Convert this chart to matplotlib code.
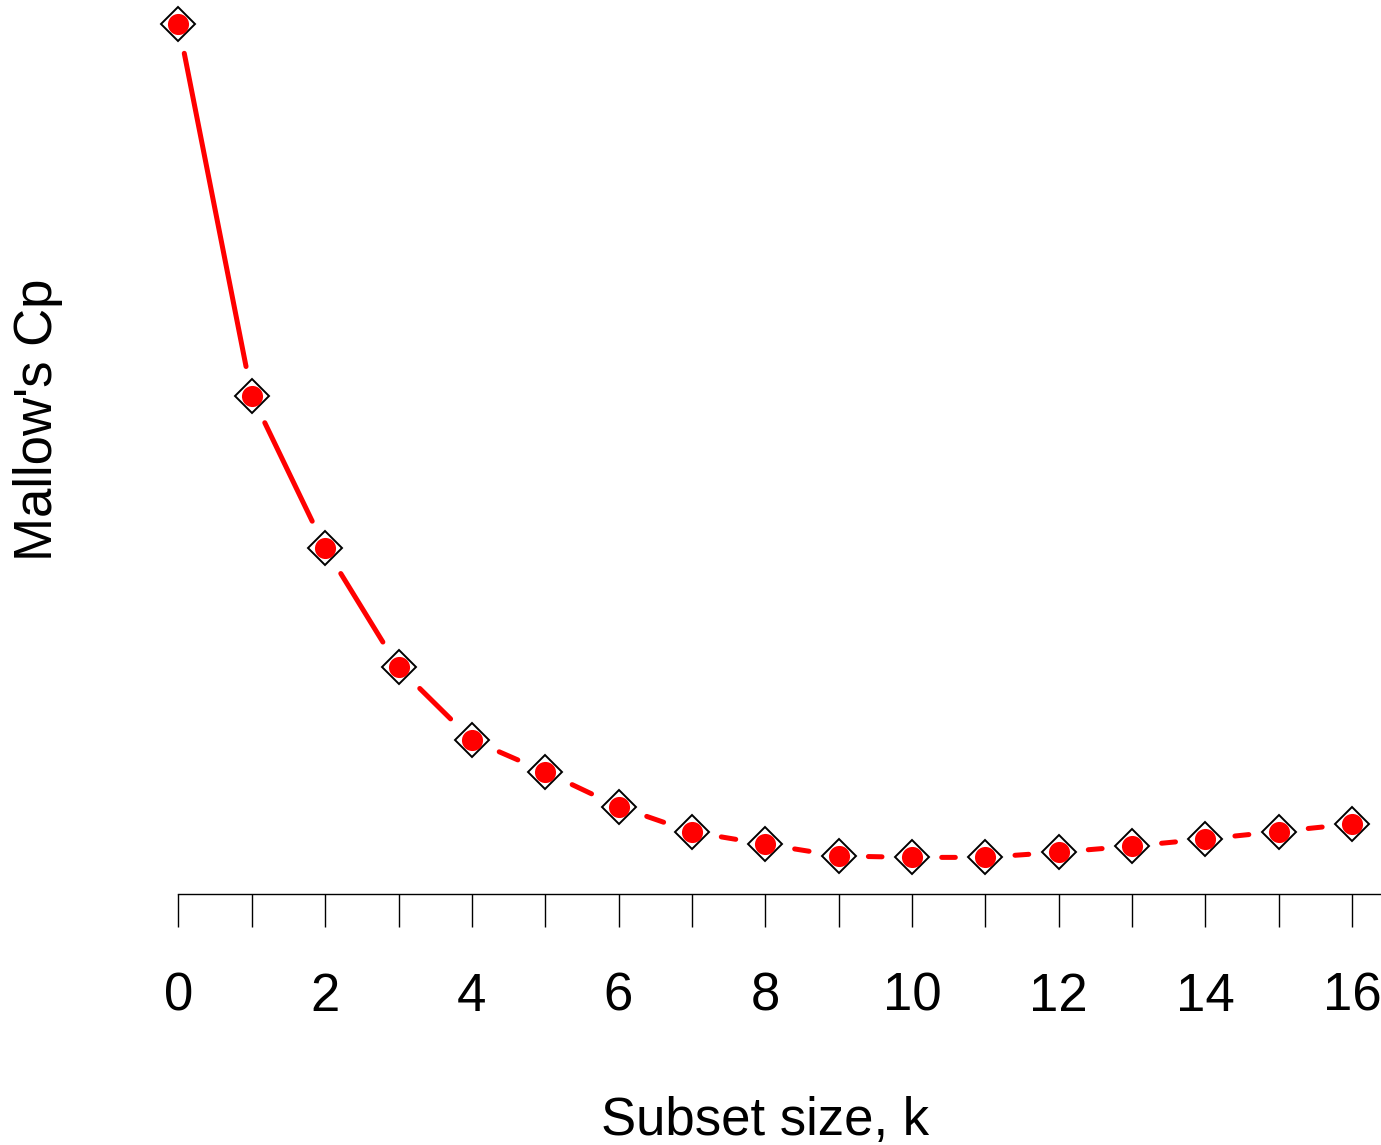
import matplotlib
matplotlib.use("Agg")
import matplotlib.pyplot as plt

# Data
subset_size = [0, 1, 2, 3, 4, 5, 6, 7, 8, 9, 10, 11, 12, 13, 14, 15, 16]
mallows_cp = [187.2, 108.1, 75.7, 50.3, 34.9, 28.1, 20.7, 15.3, 12.7, 10.2,
              9.9, 9.9, 11.0, 12.3, 13.8, 15.4, 17.0]
x_ticks = list(range(0, 17))
x_tick_labels = [str(t) if t % 2 == 0 else "" for t in x_ticks]

plt.rcParams['font.family'] = ['Liberation Sans', 'DejaVu Sans']

fig = plt.figure(figsize=(13.81, 11.45), dpi=100)
ax = fig.add_axes([0.12925, 0.2192, 0.8700, 0.7721])

ax.set_xlim(0, 16.383)
ax.set_ylim(2.106, 190.19)

# connecting segments with gaps around points (R type="b" style)
for i in range(len(subset_size) - 1):
    ax.annotate("", xy=(subset_size[i + 1], mallows_cp[i + 1]),
                xytext=(subset_size[i], mallows_cp[i]),
                arrowprops=dict(arrowstyle='-', color='red', lw=3.6,
                                shrinkA=21.5, shrinkB=21.5,
                                capstyle='round'),
                annotation_clip=False)

ax.plot(subset_size, mallows_cp, linestyle='none', marker='D',
        markersize=17.8, markerfacecolor='white', markeredgecolor='black',
        markeredgewidth=1.4, clip_on=False, zorder=3)
ax.plot(subset_size, mallows_cp, linestyle='none', marker='o',
        markersize=15.2, markerfacecolor='red', markeredgecolor='none',
        clip_on=False, zorder=4)

for s in ['top', 'right', 'left']:
    ax.spines[s].set_visible(False)
ax.spines['bottom'].set_linewidth(1.0)
ax.spines['bottom'].set_bounds(0, 16.383)

ax.set_yticks([])
ax.set_xticks(x_ticks)
ax.set_xticklabels(x_tick_labels)
ax.tick_params(axis='x', direction='out', length=23.8, width=1.0,
               pad=32, labelsize=38)

ax.set_xlabel("Subset size, k", fontsize=38, va='center')
ax.xaxis.set_label_coords(8 / 16.383, -0.257)
ax.set_ylabel("Mallow's Cp", fontsize=38, va='center')
ax.yaxis.set_label_coords(-0.117, 0.537)

fig.savefig("out.png", dpi=100)
